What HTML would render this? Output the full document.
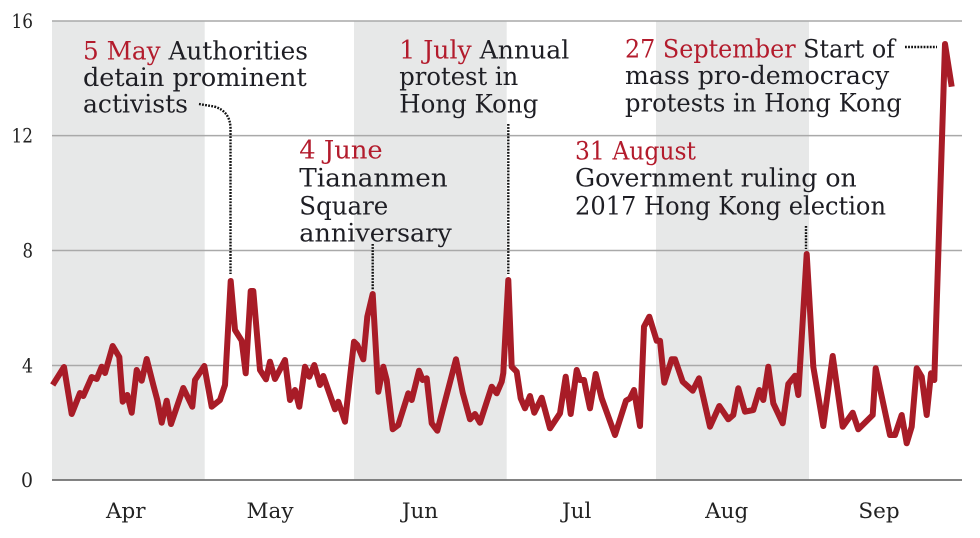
<!DOCTYPE html>
<html>
<head>
<meta charset="utf-8">
<style>
  html, body { margin: 0; padding: 0; background: #ffffff; }
  svg { display: block; }
  .ann { font-family: "DejaVu Serif", "Liberation Serif", serif; font-size: 25px; fill: #1e1e24; }
  .red { fill: #b31b2c; }
  .ax { font-family: "DejaVu Serif", "Liberation Serif", serif; font-size: 20px; fill: #222; }
  .mo { font-family: "DejaVu Serif", "Liberation Serif", serif; font-size: 21.5px; fill: #222; }
</style>
</head>
<body>
<svg width="980" height="538" viewBox="0 0 980 538" xmlns="http://www.w3.org/2000/svg">
  <rect x="0" y="0" width="980" height="538" fill="#ffffff"/>
  <!-- month bands -->
  <rect x="52" y="21" width="152.7" height="459" fill="#e7e8e8"/>
  <rect x="354" y="21" width="152.7" height="459" fill="#e7e8e8"/>
  <rect x="656" y="21" width="153" height="459" fill="#e7e8e8"/>

  <!-- gridlines -->
  <g stroke="#a9a9a9" stroke-width="1.5">
    <line x1="52" y1="21" x2="962" y2="21"/>
    <line x1="52" y1="135.6" x2="962" y2="135.6"/>
    <line x1="52" y1="250.5" x2="962" y2="250.5"/>
    <line x1="52" y1="365.5" x2="962" y2="365.5"/>
  </g>
  <line x1="52" y1="480" x2="962" y2="480" stroke="#707070" stroke-width="1.8"/>

  <!-- y labels -->
  <text class="ax" x="33" y="27.8" text-anchor="end" textLength="21.5" lengthAdjust="spacingAndGlyphs">16</text>
  <text class="ax" x="33" y="142.4" text-anchor="end" textLength="21.5" lengthAdjust="spacingAndGlyphs">12</text>
  <text class="ax" x="33" y="257.3" text-anchor="end" textLength="10.5" lengthAdjust="spacingAndGlyphs">8</text>
  <text class="ax" x="33" y="372.3" text-anchor="end" textLength="11" lengthAdjust="spacingAndGlyphs">4</text>
  <text class="ax" x="33" y="486.8" text-anchor="end" textLength="12" lengthAdjust="spacingAndGlyphs">0</text>

  <!-- month labels -->
  <text class="mo" x="125.8" y="518" text-anchor="middle">Apr</text>
  <text class="mo" x="270" y="518" text-anchor="middle">May</text>
  <text class="mo" x="420" y="518" text-anchor="middle">Jun</text>
  <text class="mo" x="576.7" y="518" text-anchor="middle">Jul</text>
  <text class="mo" x="726.7" y="518" text-anchor="middle">Aug</text>
  <text class="mo" x="879" y="518" text-anchor="middle">Sep</text>

  <!-- leaders -->
  <g fill="none" stroke="#111" stroke-width="2.4" stroke-dasharray="1.8 1.3">
    <path d="M199,104 L214,106.5 Q230,111 230.5,128 L230.5,274"/>
    <path d="M372.7,244 L372.7,290"/>
    <path d="M508.3,124 L508.3,274"/>
    <path d="M806,226 L806,249"/>
    <path d="M905,47 L937,47"/>
  </g>

  <!-- series -->
  <polyline fill="none" stroke="#a81c27" stroke-width="6" stroke-linejoin="round" stroke-linecap="butt" points="
52.7,385 64,367 71.7,414 80,393 83.3,396 91.7,377 96.7,379 101.7,366.7 105,373 112.7,346 119.3,357 122.7,401.7 127.3,395 131.7,412.7 136.7,370 141.7,380.7 146.7,359 153.3,385 157.3,400 161.7,422.7 166.7,400.7 171,424 183.3,388 192.3,406.7 195,380 204.3,366 211.7,406.7 220,400 225,385 230.7,281 235,330 241.7,340.7 245.7,373.3 250.7,291 253.3,291 260,370 266,379.3 270,361.7 275,379 285,360 290,400 295,390 299.3,406.7 305,366.7 309.3,376.7 314.3,365 320,385 323.3,376 335,409.3 338.3,401.7 345,421.7 354,341.7 357.3,345 363.3,359.3 367.3,316.7 372.7,294 378.3,391.7 383.3,366.7 386.7,380 392.7,429.3 398.3,425 408.3,393.3 411.7,400 419,370.7 422.7,380 426.7,378.3 431.7,423.3 437.3,430.7 456,359.3 462.7,392.7 470,419.3 475,414 480,422.7 491.7,386.7 496.7,393.3 501.7,381.7 503.3,373 508.3,280 511.7,366.7 516.7,371.7 520.7,398.3 525,408.3 530,396 534.3,412.7 541.7,397.7 550,428.3 560,413.3 565.7,376.7 570.7,414 576.7,370 580,380 584,380 590,408.3 595.7,374 601.7,398.3 615,435 626,400.7 630,398.3 634,390 640,426 644,326.7 649.3,316.7 656.7,340.7 660,340.7 664.3,382.7 671.7,359.3 675,359.3 682.7,381.7 692.7,390.7 699,378.3 710,426.7 719.3,406 728.3,419.3 733.3,415 738.3,388.3 745,411.7 753.3,410 759.3,390 763.3,400 768.3,366.7 773.3,403.3 782.7,423.3 788.3,384 795,375.7 798.3,395 806.7,254 813.3,366.7 823.3,426 832.7,356 842.7,426.7 852.7,412.7 858.3,429.3 872.7,415 875.7,368.3 890,435 895,435 901.7,415 906.7,443.3 911.7,426.7 916.7,368.3 921.7,376.7 926.7,415 931,373.3 934.3,380 945,44 951.7,86.7"/>

  <!-- annotations -->
  <text class="ann" x="83" y="59.3" textLength="225" lengthAdjust="spacingAndGlyphs"><tspan class="red">5 May</tspan> Authorities</text>
  <text class="ann" x="83" y="86" textLength="223.7" lengthAdjust="spacingAndGlyphs">detain prominent</text>
  <text class="ann" x="83" y="112.7" textLength="105" lengthAdjust="spacingAndGlyphs">activists</text>

  <text class="ann red" x="299.3" y="158.3" textLength="83.4" lengthAdjust="spacingAndGlyphs">4 June</text>
  <text class="ann" x="299.3" y="186.5" textLength="148.4" lengthAdjust="spacingAndGlyphs">Tiananmen</text>
  <text class="ann" x="299.3" y="214.3" textLength="89" lengthAdjust="spacingAndGlyphs">Square</text>
  <text class="ann" x="299.3" y="241.7" textLength="152.4" lengthAdjust="spacingAndGlyphs">anniversary</text>

  <text class="ann" x="399.3" y="58.3" textLength="170" lengthAdjust="spacingAndGlyphs"><tspan class="red">1 July</tspan> Annual</text>
  <text class="ann" x="399.3" y="85" textLength="119" lengthAdjust="spacingAndGlyphs">protest in</text>
  <text class="ann" x="399.3" y="112.7" textLength="139" lengthAdjust="spacingAndGlyphs">Hong Kong</text>

  <text class="ann red" x="575" y="159.3" textLength="121" lengthAdjust="spacingAndGlyphs">31 August</text>
  <text class="ann" x="575" y="186.7" textLength="281.7" lengthAdjust="spacingAndGlyphs">Government ruling on</text>
  <text class="ann" x="575" y="214.3" textLength="311" lengthAdjust="spacingAndGlyphs">2017 Hong Kong election</text>

  <text class="ann" x="625" y="57.3" textLength="270" lengthAdjust="spacingAndGlyphs"><tspan class="red">27 September</tspan> Start of</text>
  <text class="ann" x="625" y="84" textLength="264.3" lengthAdjust="spacingAndGlyphs">mass pro-democracy</text>
  <text class="ann" x="625" y="111.7" textLength="276.7" lengthAdjust="spacingAndGlyphs">protests in Hong Kong</text>
</svg>
</body>
</html>
